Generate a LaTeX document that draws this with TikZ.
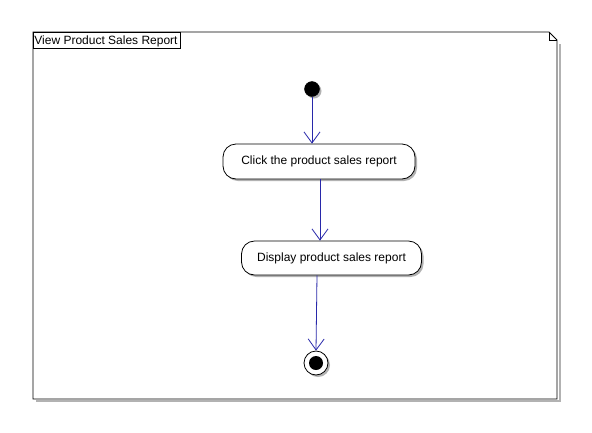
\documentclass[tikz,border=0pt]{standalone}
\usepackage{fontspec}
\setmainfont{Liberation Sans}
\usetikzlibrary{arrows.meta,shadows,calc}
\definecolor{flowblue}{RGB}{40,40,170}
\tikzset{
  shd/.style={drop shadow={shadow xshift=2pt,shadow yshift=-2pt,fill=black!30,opacity=1}},
  action/.style={draw=black,fill=white,rounded corners=13pt,line width=0.8pt,
    font=\fontsize{12}{14}\selectfont,inner sep=0pt,shd},
  flow/.style={draw=flowblue,line width=0.8pt,-{Straight Barb[length=11pt,width=16pt,line width=0.8pt]}},
  framebox/.style={draw=black,line width=0.8pt}
}
\begin{document}
\begin{tikzpicture}[x=1pt,y=-1pt]
\useasboundingbox[fill=white] (0,0) rectangle (592,432);
% frame shadow
\draw[black!30,line width=1.6pt] (560,44) -- (560,401) -- (36,401);
\draw[framebox,fill=white] (33,32) -- (549,32) -- (557,40) -- (557,399) -- (33,399) -- cycle;
\draw[framebox] (549,32) -- (549,40) -- (557,40);
\node[framebox,anchor=north west,minimum width=147pt,minimum height=16pt,inner sep=0pt,
  font=\fontsize{12}{14}\selectfont,text depth=0pt] (title) at (33,32) {\makebox[146pt][l]{\hspace{0.5pt}View Product Sales Report}};
% nodes
\node[circle,fill=black,draw=black,minimum size=15pt,inner sep=0pt,shd] (init) at (312,89) {};
\node[action,minimum width=192pt,minimum height=35pt] (a1) at (319,161.5) {Click the product sales report};
\node[action,minimum width=180pt,minimum height=34pt] (a2) at (331.5,258) {Display product sales report};
\node[circle,draw=black,fill=white,line width=0.8pt,minimum size=24pt,inner sep=0pt,shd] (fin) at (316,363) {};
\node[circle,fill=black,minimum size=14pt,inner sep=0pt] (finin) at (fin) {};
% flows
\draw[flow] (init) -- (init |- a1.north);
\draw[flow] ([xshift=1pt]a1.south) -- ([xshift=1pt]a1.south |- a2.north);
\draw[flow] ([xshift=-14.5pt]a2.south) -- (fin.north);
\end{tikzpicture}
\end{document}
